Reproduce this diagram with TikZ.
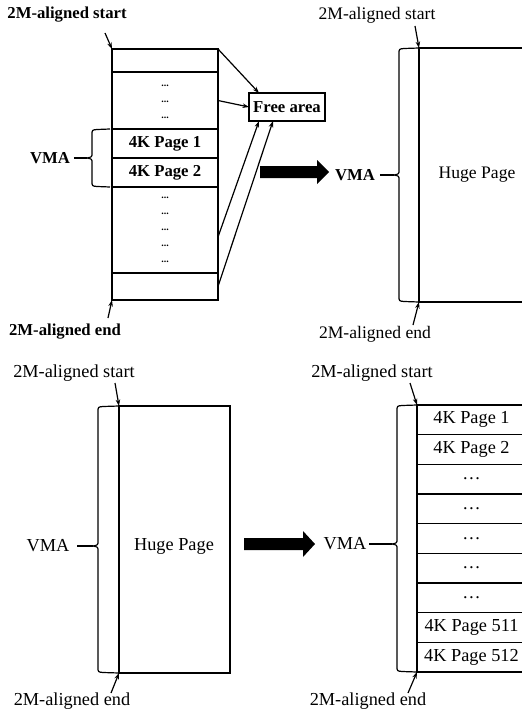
\documentclass[tikz,border=0pt]{standalone}
\usepackage{fontspec}
\setmainfont{Liberation Serif}
\usetikzlibrary{arrows.meta,calc}
\tikzset{
  cell/.style={draw, line width=1.1bp, inner sep=0pt},
  ftop/.style={font=\fontsize{16.7bp}{20bp}\selectfont\bfseries},
  ftopr/.style={font=\fontsize{17.6bp}{20bp}\selectfont},
  fbot/.style={font=\fontsize{18.3bp}{21bp}\selectfont},
  dotsf/.style={font=\fontsize{10bp}{16bp}\selectfont\bfseries, align=center},
  ptr/.style={line width=1.2bp, -{Stealth[length=6.5bp,width=4.5bp]}},
  brc/.style={line width=1.2bp},
  vdash/.style={line width=1.2bp},
  bigarrow/.style={fill=black}
}
\newcommand\vmabrace[6]{% xr xb xt yt ym yb
  \draw[brc] (#1,#4) -- (#2+5,#4+0.5) .. controls (#2,#4+1) .. (#2,#4+6) -- (#2,#5-5)
    .. controls (#2,#5-1) .. (#3,#5) .. controls (#2,#5+1) .. (#2,#5+5) -- (#2,#6-6)
    .. controls (#2,#6-1) .. (#2+5,#6-0.5) -- (#1,#6);}
\newcommand\cellbox[7]{% name x1 y1 x2 y2 style text
  \node[cell, minimum width={(#4-#2)*1bp}, minimum height={(#5-#3)*1bp}, #6]
    (#1) at ({(#2+#4)/2},{(#3+#5)/2}) {#7};}
\begin{document}
\begin{tikzpicture}[x=1bp,y=-1bp, every node/.style={inner sep=0pt, outer sep=0pt}]
\useasboundingbox (0,0) rectangle (522,718);
\clip (0,0) rectangle (522,718);

% ---------- top-left panel ----------
\cellbox{t0}{112}{49}{218}{72}{}{}
\cellbox{t1}{112}{72}{218}{129}{}{}
\cellbox{t2}{112}{129}{218}{158}{ftop}{4K Page 1}
\cellbox{t3}{112}{158}{218}{187}{ftop}{4K Page 2}
\cellbox{t4}{112}{187}{218}{273}{}{}
\cellbox{t5}{112}{273}{218}{300}{}{}
\node[dotsf] (dA) at (165,102) {...\\...\\...};
\node[dotsf] (dB) at (165,230) {...\\...\\...\\...\\...};

\node[ftop] (lsTL) at (67,15) {2M-aligned start};
\node[ftop] (leTL) at (65,332) {2M-aligned end};
\coordinate (asTL) at (105,33);
\coordinate (aeTL) at (108,318);
\draw[ptr] (asTL) -- (t0.north west);
\draw[ptr] (aeTL) -- (t5.south west);

\vmabrace{110}{92}{87}{129}{158}{187}
\coordinate (tipTL) at (87,158);
\node[ftop] (vmaTL) at (50,158) {VMA};
\draw[vdash] ([xshift=4bp]vmaTL.east) -- (tipTL);

\cellbox{fa}{249}{93}{325}{121}{ftop}{Free area}
\draw[ptr] (t0.north east) -- ([xshift=10bp]fa.north west);
\draw[ptr] (t1.east) -- (fa.west);
\draw[ptr] ([yshift=-7bp]t4.east) -- ([xshift=10bp]fa.south west);
\draw[ptr] (t5.east) -- ([xshift=24bp]fa.south west);

% big arrow top
\fill[bigarrow] (260,166) -- (317,166) -- (317,160) -- (329,172) -- (317,184) -- (317,178) -- (260,178) -- cycle;

% ---------- top-right panel ----------
\cellbox{hpT}{419}{48}{535}{302}{ftopr}{Huge Page}
\node[ftopr] (lsTR) at (377,15) {2M-aligned start};
\node[ftopr] (leTR) at (375,334) {2M-aligned end};
\coordinate (asTR) at (415,26);
\coordinate (aeTR) at (413,325);
\draw[ptr] (asTR) -- (hpT.north west);
\draw[ptr] (aeTR) -- (hpT.south west);
\vmabrace{419}{399}{394}{48}{175}{302}
\coordinate (tipTR) at (394,175);
\node[ftop] (vmaTR) at (355,175) {VMA};
\draw[vdash] ([xshift=5bp]vmaTR.east) -- (tipTR);

% ---------- bottom-left panel ----------
\cellbox{hpB}{119}{406}{230}{673}{}{}
\node[fbot] (hpBt) at (174,546) {Huge Page};
\node[fbot] (lsBL) at (74,373) {2M-aligned start};
\node[fbot] (leBL) at (72,701) {2M-aligned end};
\coordinate (asBL) at (115,383);
\coordinate (aeBL) at (111,693);
\draw[ptr] (asBL) -- (hpB.north west);
\draw[ptr] (aeBL) -- (hpB.south west);
\vmabrace{119}{98}{93}{406}{546}{673}
\coordinate (tipBL) at (93,546);
\node[fbot] (vmaBL) at (48,546) {VMA};
\draw[vdash] ([xshift=8bp]vmaBL.east) -- (tipBL);

% big arrow bottom
\fill[bigarrow] (244,538) -- (303,538) -- (303,531) -- (315,544) -- (303,557) -- (303,550) -- (244,550) -- cycle;

% ---------- bottom-right panel ----------
\foreach \i/\t in {0/4K Page 1,1/4K Page 2,2/…,3/…,4/…,5/…,6/…,7/4K Page 511,8/4K Page 512}{
  \pgfmathsetmacro\ytop{405+\i*29.667}
  \pgfmathsetmacro\ybot{405+(\i+1)*29.667}
  \cellbox{b\i}{417}{\ytop}{526}{\ybot}{fbot}{\t}
}
\node[fbot] (lsBR) at (372,373) {2M-aligned start};
\node[fbot] (leBR) at (368,701) {2M-aligned end};
\coordinate (asBR) at (410,383);
\coordinate (aeBR) at (408,693);
\draw[ptr] (asBR) -- (b0.north west);
\draw[ptr] (aeBR) -- (b8.south west);
\vmabrace{417}{397}{392}{405}{544}{672}
\coordinate (tipBR) at (392,544);
\node[fbot] (vmaBR) at (345,544) {VMA};
\draw[vdash] ([xshift=3bp]vmaBR.east) -- (tipBR);
\end{tikzpicture}
\end{document}
